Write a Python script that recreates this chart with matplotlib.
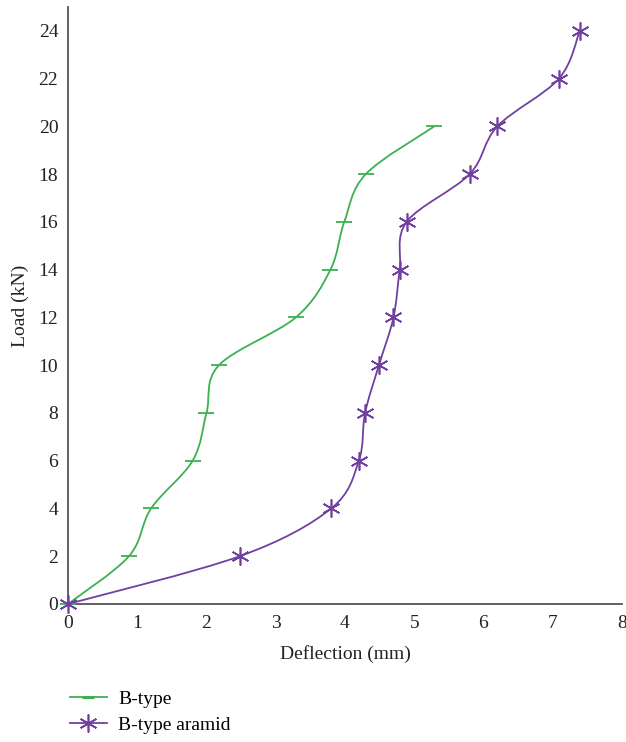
import numpy as np
import matplotlib
matplotlib.use("Agg")
import matplotlib.pyplot as plt
from matplotlib.path import Path
from matplotlib.patches import PathPatch
from matplotlib.lines import Line2D

plt.rcParams['font.family'] = ['Liberation Serif', 'DejaVu Serif']

# Data
b_type_defl = [0, 0.88, 1.2, 1.8, 2.0, 2.18, 3.29, 3.79, 3.99, 4.3, 5.29]
b_type_load = [0, 2, 4, 6, 8, 10, 12, 14, 16, 18, 20]
aramid_defl = [0, 2.48, 3.8, 4.2, 4.29, 4.49, 4.7, 4.79, 4.89, 5.8, 6.2, 7.09, 7.39]
aramid_load = [0, 2, 4, 6, 8, 10, 12, 14, 16, 18, 20, 22, 24]
x_ticks = [0, 1, 2, 3, 4, 5, 6, 7, 8]
y_ticks = [0, 2, 4, 6, 8, 10, 12, 14, 16, 18, 20, 22, 24]

green = '#3bb14f'
purple = '#7040a0'
FS = 14

fig = plt.figure(figsize=(6.26, 7.42), dpi=100)
ax = fig.add_axes([0.1086, 0.186, 0.8850, 0.8046])
ax.set_xlim(0, 8)
ax.set_ylim(0, 25)


def smooth_patch(xs, ys, color, sx, sy):
    # Bezier smoothing (like spreadsheet "smoothed line") in screen-proportional space
    P = np.column_stack([np.asarray(xs, float) * sx, np.asarray(ys, float) * sy])
    n = len(P)
    verts = [P[0]]
    codes = [Path.MOVETO]
    for i in range(n - 1):
        p0 = P[i - 1] if i > 0 else P[i]
        p1 = P[i]
        p2 = P[i + 1]
        p3 = P[i + 2] if i + 2 < n else P[i + 1]
        c1 = p1 + (p2 - p0) / 6.0
        c2 = p2 - (p3 - p1) / 6.0
        verts += [c1, c2, p2]
        codes += [Path.CURVE4] * 3
    V = np.array(verts)
    V[:, 0] /= sx
    V[:, 1] /= sy
    patch = PathPatch(Path(V, codes), facecolor='none', edgecolor=color, lw=1.3, zorder=2)
    ax.add_patch(patch)


sx = 69.25
sy = 23.875
smooth_patch(b_type_defl, b_type_load, green, sx, sy)
smooth_patch(aramid_defl, aramid_load, purple, sx, sy)

ax.plot(b_type_defl, b_type_load, linestyle='none', marker='_', markersize=11,
        markeredgewidth=1.3, color=green, zorder=3, clip_on=False)
ax.plot(aramid_defl, aramid_load, linestyle='none', marker=(6, 2, 0), markersize=13,
        markeredgewidth=1.2, color=purple, zorder=3, clip_on=False)

for s in ['top', 'right']:
    ax.spines[s].set_visible(False)
for s in ['left', 'bottom']:
    ax.spines[s].set_color('#555555')
    ax.spines[s].set_linewidth(1.3)

ax.set_xticks(x_ticks)
ax.set_yticks(y_ticks)
ax.tick_params(axis='both', length=0, labelsize=FS, colors='#222222')
ax.tick_params(axis='x', pad=8)
ax.tick_params(axis='y', pad=7)
ax.set_xlabel('Deflection (mm)', fontsize=FS, color='#222222', labelpad=9)
ax.set_ylabel('Load (kN)', fontsize=FS, color='#222222', labelpad=7)

handles = [
    Line2D([0], [0], color=green, lw=1.3, marker='_', markersize=8, markeredgewidth=2.2),
    Line2D([0], [0], color=purple, lw=1.3, marker=(6, 2, 0), markersize=13, markeredgewidth=1.2),
]
fig.legend(handles, ['B-type', 'B-type aramid'], loc='upper left',
           bbox_to_anchor=(0.099, 0.080), frameon=False, fontsize=FS,
           handlelength=1.9, handletextpad=0.6, labelspacing=0.42, borderaxespad=0)

fig.savefig('out.png', dpi=100)
